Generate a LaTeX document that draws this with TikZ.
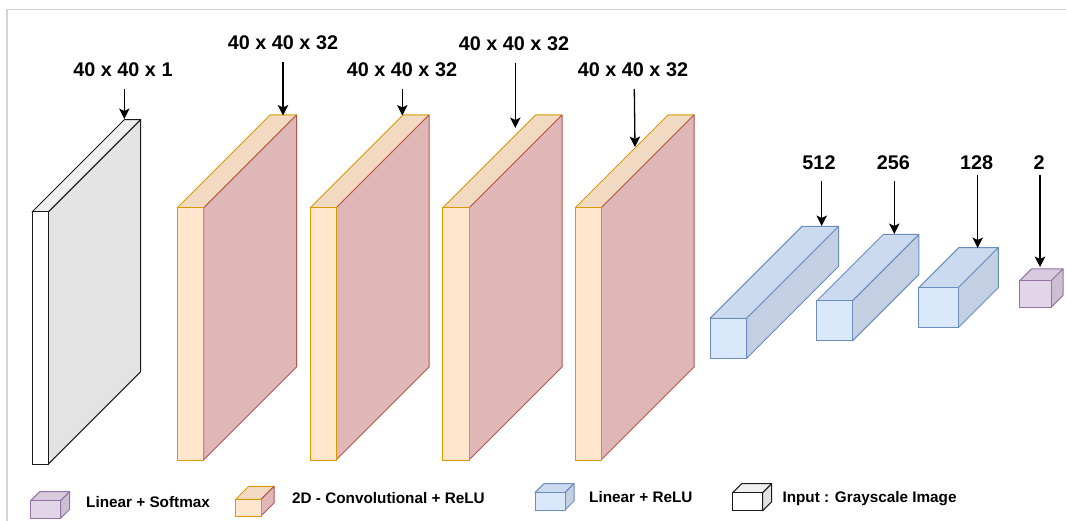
\documentclass[tikz,border=0pt]{standalone}
\usepackage{fontspec}
\setmainfont{Liberation Sans}
\usetikzlibrary{arrows.meta}
\definecolor{frameC}{HTML}{D4D4D4}
\definecolor{inTop}{HTML}{EFEFEF}
\definecolor{inSide}{HTML}{E3E3E3}
\definecolor{inLine}{HTML}{1A1A1A}
\definecolor{cvFront}{HTML}{FFE6CC}
\definecolor{cvTop}{HTML}{F2D9C1}
\definecolor{cvSide}{HTML}{DFB7B7}
\definecolor{cvLine}{HTML}{D79B00}
\definecolor{cvLineB}{HTML}{B85450}
\definecolor{lnFront}{HTML}{DAE8FC}
\definecolor{lnTop}{HTML}{CCDAEF}
\definecolor{lnSide}{HTML}{C3CFE2}
\definecolor{lnLine}{HTML}{6C8EBF}
\definecolor{smFront}{HTML}{E1D5E7}
\definecolor{smTop}{HTML}{D6CADC}
\definecolor{smSide}{HTML}{CCBFD1}
\definecolor{smLine}{HTML}{9673A6}
\tikzset{
  inp front/.style={fill=white,draw=inLine},
  inp top/.style={fill=inTop,draw=inLine},
  inp side/.style={fill=inSide,draw=inLine},
  conv front/.style={fill=cvFront,draw=cvLine},
  conv top/.style={fill=cvTop,draw=cvLine},
  conv side/.style={fill=cvSide,draw=cvLineB},
  lin front/.style={fill=lnFront,draw=lnLine},
  lin top/.style={fill=lnTop,draw=lnLine},
  lin side/.style={fill=lnSide,draw=lnLine},
  smx front/.style={fill=smFront,draw=smLine},
  smx top/.style={fill=smTop,draw=smLine},
  smx side/.style={fill=smSide,draw=smLine},
  dimlabel/.style={font=\fontsize{19.8}{20}\selectfont\bfseries,inner sep=0pt,anchor=base},
  leglabel/.style={font=\fontsize{15.3}{16}\selectfont\bfseries,inner sep=0pt,anchor=base west},
  arr/.style={line width=1.3pt,-{Stealth[length=10.5pt,width=10.5pt,inset=2.5pt]}},
}
% #1 style prefix, #2 x1, #3 y1 (top), #4 x2, #5 y2 (bottom), #6 depth
\newcommand\mycube[6]{%
  \draw[#1 top,line width=1pt,line join=round] (#2,#3) -- ({#2+#6},{#3-#6}) -- ({#4+#6},{#3-#6}) -- (#4,#3) -- cycle;
  \draw[#1 side,line width=1pt,line join=round] (#4,#3) -- ({#4+#6},{#3-#6}) -- ({#4+#6},{#5-#6}) -- (#4,#5) -- cycle;
  \draw[#1 front,line width=1pt] (#2,#3) rectangle (#4,#5);
}
\begin{document}
\begin{tikzpicture}[x=1pt,y=-1pt]
\useasboundingbox (0,0) rectangle (1066,521);
\fill[white] (0,0) rectangle (1066,521);
\draw[frameC,line width=1.3pt] (7,521) -- (7,9.5) -- (1066,9.5);

% layers
\mycube{inp}{32}{212}{48.3}{464}{92.4}
\mycube{conv}{177}{208}{203.5}{460}{93}
\mycube{conv}{310}{208}{336}{460}{93}
\mycube{conv}{442.5}{208}{469}{460}{93}
\mycube{conv}{575}{208}{601}{460}{93}
\mycube{lin}{710}{318.3}{746.7}{358.3}{92}
\mycube{lin}{816.7}{301}{852.3}{341}{66.5}
\mycube{lin}{918.7}{287.7}{958.3}{327.7}{40}
\mycube{smx}{1019.3}{281}{1051}{307.3}{12}

% dimension labels
\node[dimlabel] (l0) at (123,77) {40 x 40 x 1};
\node[dimlabel] (l1) at (283,50) {40 x 40 x 32};
\node[dimlabel] (l2) at (402,76.7) {40 x 40 x 32};
\node[dimlabel] (l3) at (514,50.5) {40 x 40 x 32};
\node[dimlabel] (l4) at (633,76.7) {40 x 40 x 32};
\node[dimlabel] (l5) at (819,170) {512};
\node[dimlabel] (l6) at (893.3,170) {256};
\node[dimlabel] (l7) at (976.7,170) {128};
\node[dimlabel] (l8) at (1039,170) {2};

% arrow endpoints
\coordinate (s0) at (124.3,89);   \coordinate (e0) at (124.3,119);
\coordinate (s1) at (283,62);     \coordinate (e1) at (283,115.5);
\coordinate (s2) at (402.3,89);   \coordinate (e2) at (402.3,115.5);
\coordinate (s3) at (515.3,62.7); \coordinate (e3) at (515.3,128);
\coordinate (s4) at (634.3,89);   \coordinate (e4) at (635,147);
\coordinate (s5) at (821.7,181);  \coordinate (e5) at (821.7,226);
\coordinate (s6) at (894.3,181);  \coordinate (e6) at (894.3,234);
\coordinate (s7) at (977.7,175);  \coordinate (e7) at (977.7,248);
\coordinate (s8) at (1040,175);   \coordinate (e8) at (1040,267);
\foreach \i in {0,...,8}{\draw[arr] (s\i) -- (e\i);}

% legend
\mycube{smx}{30.7}{500.7}{60.7}{518.3}{9}
\node[leglabel] (g1) at (86,507) {Linear + Softmax};
\mycube{conv}{235.7}{499.3}{261}{516}{13}
\node[leglabel] (g2) at (292,503.7) {2D - Convolutional + ReLU};
\mycube{lin}{535}{492.7}{565}{510}{9}
\node[leglabel] (g3) at (589,502) {Linear + ReLU};
\mycube{inp}{732.7}{492.7}{762.7}{510.7}{9}
\node[leglabel] (g4) at (782.3,502) {Input : Grayscale Image};
\end{tikzpicture}
\end{document}
